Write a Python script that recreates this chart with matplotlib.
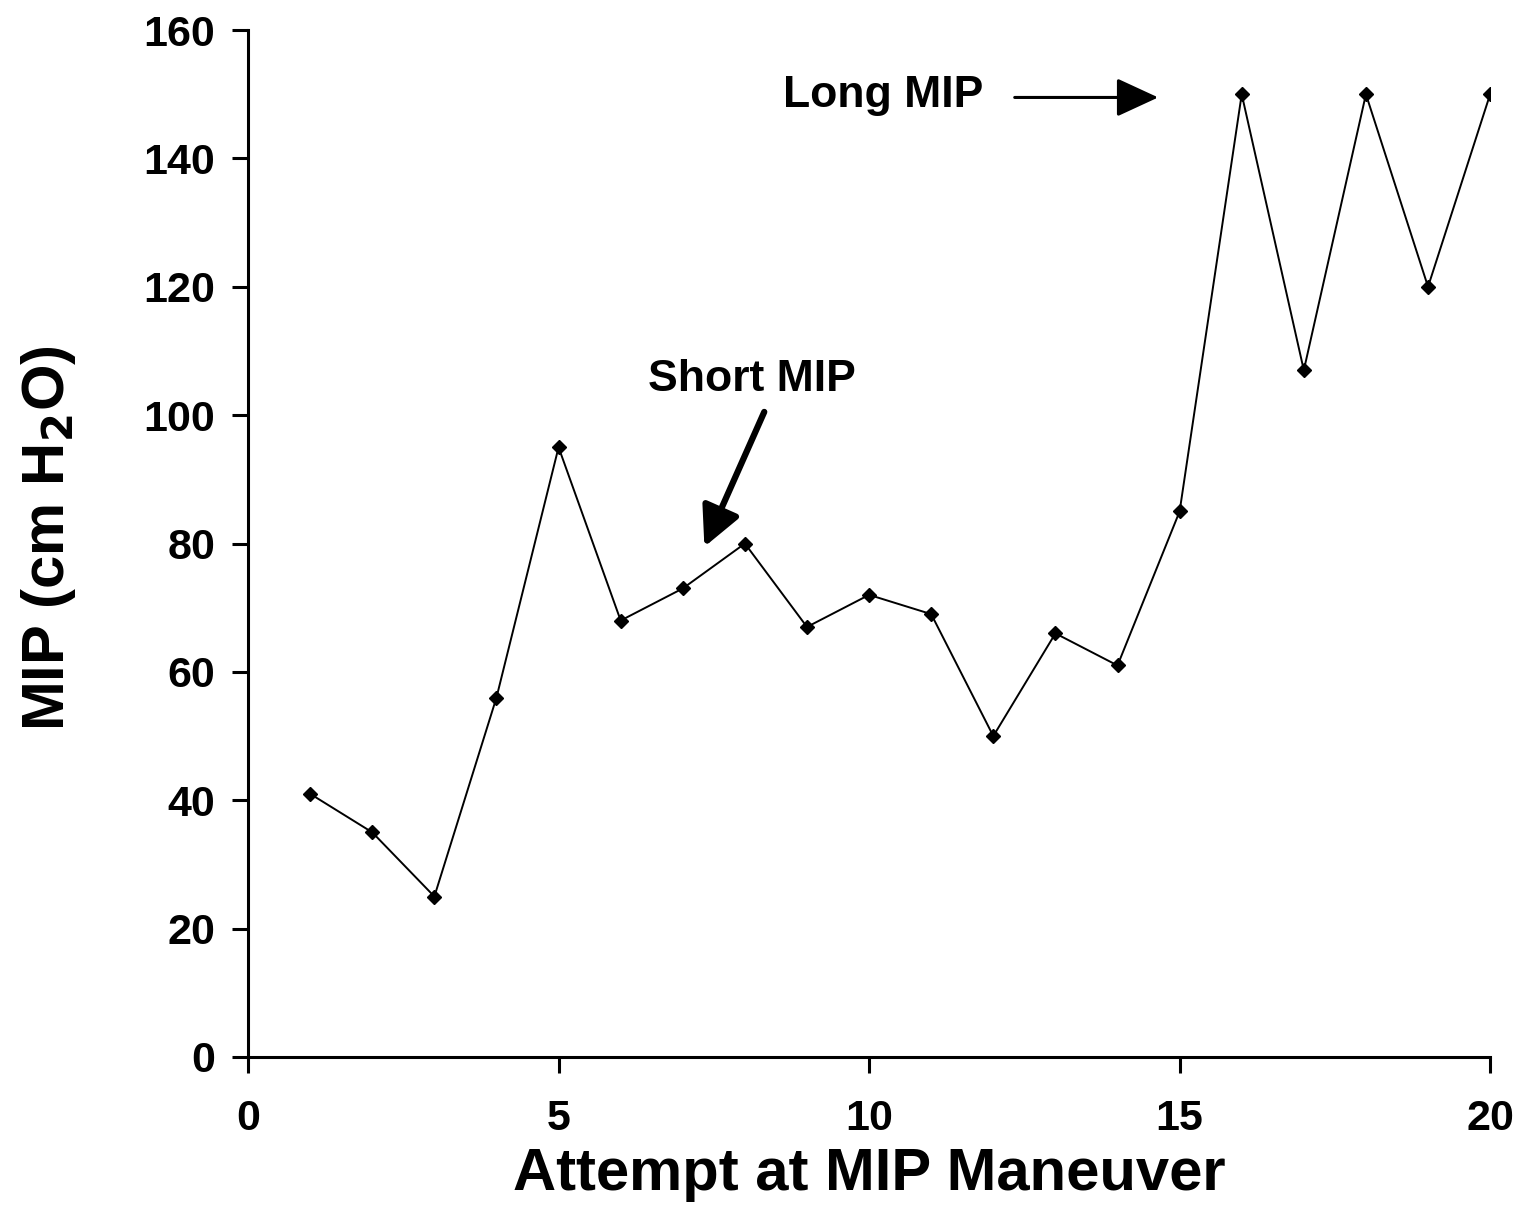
import matplotlib
matplotlib.use("Agg")
import matplotlib.pyplot as plt

# data
attempt = list(range(1, 21))
mip = [41, 35, 25, 56, 95, 68, 73, 80, 67, 72, 69, 50, 66, 61, 85, 150, 107, 150, 120, 150]

plt.rcParams['font.family'] = ['Liberation Sans', 'DejaVu Sans']
plt.rcParams['font.weight'] = 'bold'

fig = plt.figure(figsize=(15.19, 12.12), dpi=100)
ax = fig.add_axes([0.1633, 0.1279, 0.8177, 0.8473])

ax.plot(attempt, mip, color='black', linewidth=1.4, marker='D', markersize=7.5)

ax.set_xlim(0, 20)
ax.set_ylim(0, 160)
ax.set_xticks([0, 5, 10, 15, 20])
ax.set_yticks(range(0, 161, 20))
ax.tick_params(direction='out', length=11.5, width=2.2, labelsize=31)
ax.tick_params(axis='x', pad=19)
ax.tick_params(axis='y', pad=12)
for lab in ax.get_xticklabels() + ax.get_yticklabels():
    lab.set_fontweight('bold')

for side in ['top', 'right']:
    ax.spines[side].set_visible(False)
for side in ['left', 'bottom']:
    ax.spines[side].set_linewidth(2.2)

ax.set_xlabel('Attempt at MIP Maneuver', fontsize=43, fontweight='bold', va='top')
ax.xaxis.set_label_coords(0.5, -0.088)
ax.set_ylabel(r'MIP (cm H$_\mathbf{2}$O)', fontsize=43, fontweight='bold')
ax.yaxis.set_label_coords(-0.137, 0.505)

# annotations
ax.annotate('', xy=(14.7, 149.5), xytext=(12.3, 149.5),
            arrowprops=dict(arrowstyle='-|>,head_length=2.6,head_width=1.2', color='black',
                            lw=2.2, mutation_scale=10))
ax.text(10.23, 149.8, 'Long MIP', fontsize=32, fontweight='bold', ha='center', va='center')

ax.annotate('', xy=(7.33, 79.1), xytext=(8.33, 100.9),
            arrowprops=dict(arrowstyle='-|>,head_length=2.4,head_width=1.2', color='black',
                            lw=4.5, mutation_scale=10))
ax.text(8.12, 105.6, 'Short MIP', fontsize=32, fontweight='bold', ha='center', va='center')

fig.savefig('out.png', dpi=100)
